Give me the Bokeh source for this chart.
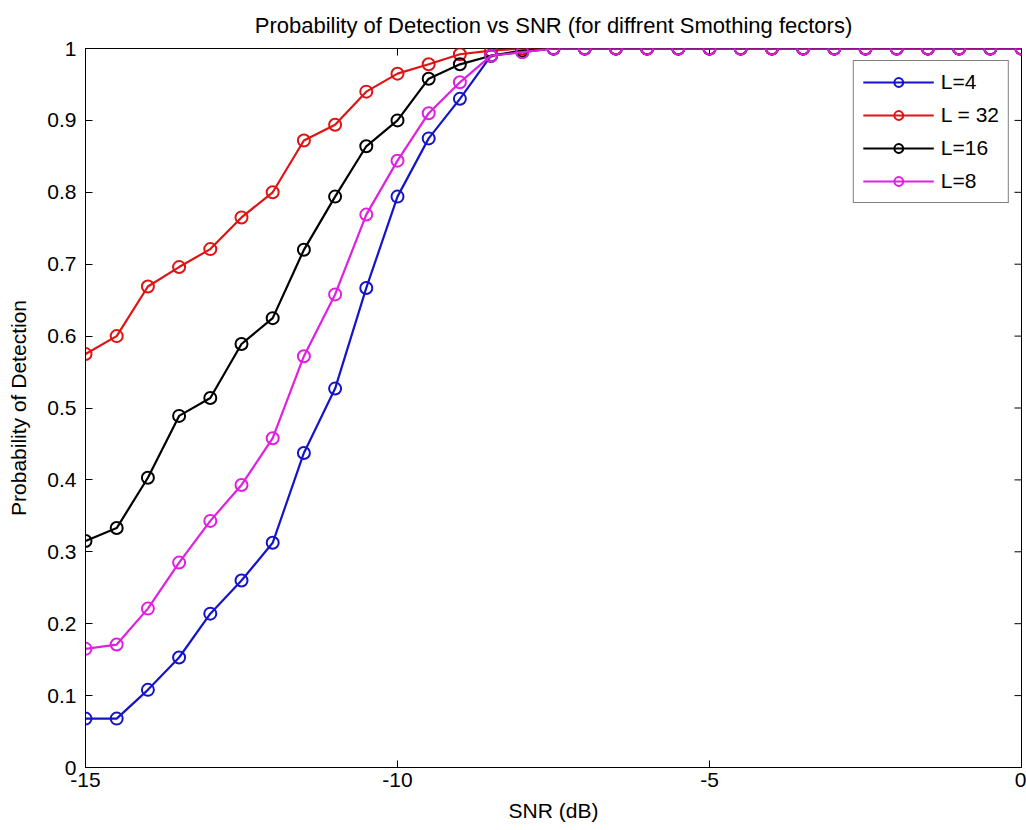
import math
from bokeh.plotting import figure
from bokeh.models import FixedTicker, Range1d, Legend, LegendItem
from bokeh.embed import file_html
from bokeh.resources import INLINE

snr = [-15 + 0.5 * i for i in range(31)]

pd_L4 = [0.068, 0.068, 0.108, 0.153, 0.214, 0.26, 0.3125, 0.4375, 0.527, 0.667,
         0.794, 0.875, 0.93, 0.99, 0.995] + [1.0] * 16
pd_L32 = [0.575, 0.6, 0.669, 0.696, 0.721, 0.765, 0.8, 0.872, 0.894, 0.94,
          0.965, 0.978, 0.992, 0.997, 1.0] + [1.0] * 16
pd_L16 = [0.315, 0.333, 0.403, 0.489, 0.514, 0.589, 0.625, 0.72, 0.794, 0.864,
          0.9, 0.958, 0.978, 0.99, 0.997] + [1.0] * 16
pd_L8 = [0.165, 0.171, 0.221, 0.285, 0.343, 0.393, 0.458, 0.572, 0.658, 0.769,
         0.844, 0.91, 0.953, 0.99, 0.995] + [1.0] * 16

series = [
    ("L=4", pd_L4, "#1414c8"),
    ("L = 32", pd_L32, "#e01414"),
    ("L=16", pd_L16, "#000000"),
    ("L=8", pd_L8, "#e020e0"),
]

x_ticks = [-15, -10, -5, 0]
x_tick_labels = ["-15", "-10", "-5", "0"]
y_ticks = [0, 0.1, 0.2, 0.3, 0.4, 0.5, 0.6, 0.7, 0.8, 0.9, 1.0]
y_tick_labels = ["0", "0.1", "0.2", "0.3", "0.4", "0.5", "0.6", "0.7", "0.8", "0.9", "1"]

FONT = "Liberation Sans"
FS = "21px"

p = figure(width=1026, height=830, output_backend="svg", toolbar_location=None,
           x_range=Range1d(-15, 0), y_range=Range1d(0, 1),
           min_border_left=85, min_border_right=5, min_border_top=47, min_border_bottom=63,
           title="Probability of Detection vs SNR (for diffrent Smothing fectors)")
p.title.align = "center"
p.title.text_font = FONT
p.title.text_font_size = "22px"
p.title.text_font_style = "normal"
p.title.text_color = "#000000"
p.title.standoff = 21

p.xgrid.visible = False
p.ygrid.visible = False
p.outline_line_color = "#000000"
p.outline_line_width = 1
p.background_fill_color = "white"
p.border_fill_color = "white"

for ax in (p.xaxis[0], p.yaxis[0]):
    ax.major_tick_in = 7
    ax.major_tick_out = 0
    ax.minor_tick_in = 0
    ax.minor_tick_out = 0
    ax.axis_line_color = "#000000"
    ax.major_tick_line_color = "#000000"
    ax.major_label_text_font = FONT
    ax.major_label_text_font_size = FS
    ax.major_label_text_color = "#000000"
    ax.axis_label_text_font = FONT
    ax.axis_label_text_font_size = FS
    ax.axis_label_text_font_style = "normal"
    ax.axis_label_text_color = "#000000"

p.xaxis[0].ticker = FixedTicker(ticks=x_ticks)
p.xaxis[0].major_label_overrides = {t: l for t, l in zip(x_ticks, x_tick_labels)}
p.xaxis[0].axis_label = "SNR (dB)"
p.xaxis[0].axis_label_standoff = 9
p.xaxis[0].major_label_standoff = 5
p.yaxis[0].ticker = FixedTicker(ticks=y_ticks)
p.yaxis[0].major_label_overrides = {t: l for t, l in zip(y_ticks, y_tick_labels)}
p.yaxis[0].axis_label = "Probability of Detection"
p.yaxis[0].axis_label_standoff = 14
p.yaxis[0].major_label_standoff = 9

# inward ticks on the top and right edges of the box
p.ray(x=x_ticks, y=[1.0] * len(x_ticks), length=7, length_units="screen",
      angle=-math.pi / 2, line_color="#000000", line_width=1)
p.ray(x=[0.0] * len(y_ticks), y=y_ticks, length=7, length_units="screen",
      angle=math.pi, line_color="#000000", line_width=1)

items = []
for label, ys, color in series:
    r1 = p.line(snr, ys, line_color=color, line_width=2.2)
    r2 = p.scatter(snr, ys, marker="circle", size=12, line_color=color, line_width=2,
                   fill_color=None)
    items.append(LegendItem(label=label, renderers=[r1, r2]))

legend = Legend(items=items, location="top_right")
legend.label_text_font = FONT
legend.label_text_font_size = FS
legend.label_text_color = "#000000"
legend.glyph_width = 71
legend.glyph_height = 22
legend.label_height = 22
legend.spacing = 9
legend.padding = 9
legend.margin = 12
legend.border_line_color = "#000000"
legend.border_line_width = 1
legend.background_fill_alpha = 1.0
legend.label_standoff = 7
p.add_layout(legend, "center")

open("out.html", "w").write(file_html(p, INLINE))
